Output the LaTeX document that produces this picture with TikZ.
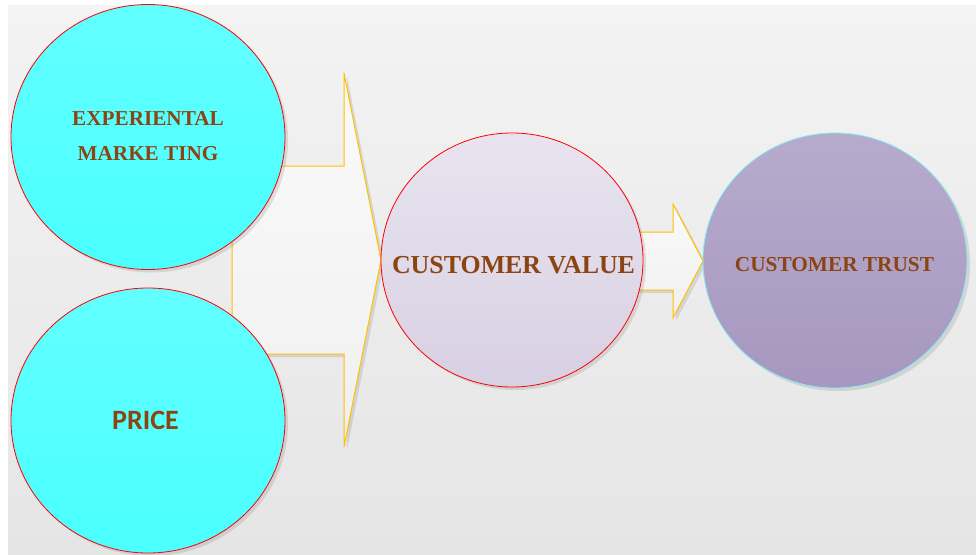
\documentclass[tikz,border=0pt]{standalone}
\usepackage{fontspec}
\setmainfont{Liberation Serif}
\newfontfamily\calib{Carlito}
\usetikzlibrary{shadows,shapes.geometric}
\definecolor{bgtop}{HTML}{F3F3F3}
\definecolor{bgbot}{HTML}{E5E5E5}
\definecolor{cyantop}{HTML}{62FFFF}
\definecolor{cyanbot}{HTML}{4AFFFF}
\definecolor{cvtop}{HTML}{E8E4EF}
\definecolor{cvbot}{HTML}{D8D0E3}
\definecolor{cttop}{HTML}{B7ABCC}
\definecolor{ctbot}{HTML}{A797C0}
\definecolor{ctline}{HTML}{7FEEF2}
\definecolor{arrline}{HTML}{FFC000}
\definecolor{txt}{HTML}{8B4513}
\begin{document}
\begin{tikzpicture}[x=1pt,y=-1pt,
  softshadow/.style={drop shadow={shadow xshift=3pt,shadow yshift=-3pt,opacity=0.15,fill=black!70}},
  bubble/.style={ellipse,inner sep=0pt,line width=0.8pt,softshadow},
  cyanbubble/.style={bubble,draw=red,top color=cyantop,bottom color=cyanbot,minimum width=274pt,minimum height=265pt},
  cvbubble/.style={bubble,draw=red,top color=cvtop,bottom color=cvbot,minimum width=262pt,minimum height=254pt},
  ctbubble/.style={bubble,draw=ctline,top color=cttop,bottom color=ctbot,minimum width=264pt,minimum height=255pt},
  blockarrow/.style={draw=arrline,line width=1pt,top color=white!98!black,bottom color=white!94!black,softshadow,line join=miter},
  serlabel/.style={text=txt,font=\bfseries\fontsize{#1}{#1}\selectfont,inner sep=0pt,anchor=base},
  sanslabel/.style={text=txt,font=\calib\bfseries\fontsize{#1}{#1}\selectfont,inner sep=0pt,anchor=base}
]
\useasboundingbox (0,0) rectangle (976,554);
\shade[top color=bgtop,bottom color=bgbot] (8,5) rectangle (976,554);

% block arrows (behind circles)
\path[blockarrow] (232,166) -- (344,166) -- (344,73) -- (381,260) -- (344,447) -- (344,354) -- (232,354) -- cycle;
\path[blockarrow] (630,232) -- (673,232) -- (673,204) -- (703,261) -- (673,318) -- (673,290) -- (630,290) -- cycle;

% circles
\node[cyanbubble] (exp) at (148,137) {};
\node[cyanbubble] (price) at (148,420.5) {};
\node[cvbubble] (cv) at (512,260) {};
\node[ctbubble] (ct) at (835,260.5) {};

% labels
\node[serlabel=21.2] (expA) at (148,125.7) {EXPERIENTAL};
\node[serlabel=21.2] (expB) at (148,160) {MARKE TING};
\node[sanslabel=28] (priceL) at (145.5,429) {PRICE};
\node[serlabel=25.9] (cvL) at (513.5,273) {CUSTOMER VALUE};
\node[serlabel=21.3] (ctL) at (834.5,271) {CUSTOMER TRUST};
\end{tikzpicture}
\end{document}
